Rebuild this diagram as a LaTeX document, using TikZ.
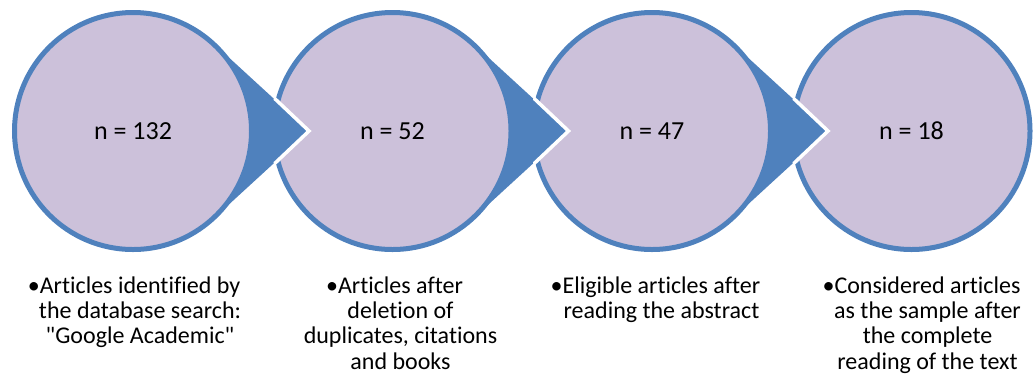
\documentclass[tikz,border=0pt]{standalone}
\usepackage{fontspec}
\setmainfont{Carlito}[Ligatures={TeXOff,CommonOff}]
\usetikzlibrary{calc}
\definecolor{lav}{HTML}{CCC1DA}
\definecolor{ablue}{HTML}{4F81BD}
\begin{document}
\begin{tikzpicture}[x=1pt,y=-1pt,
  circ/.style={circle,draw=ablue,fill=lav,line width=5pt,minimum size=237pt,inner sep=0pt,font=\fontsize{26}{30}\selectfont},
  lbl/.style={anchor=north,align=center,inner sep=0pt,font=\fontsize{24}{25.3}\selectfont},
  gap/.style={draw=white,line width=3.5pt,line join=miter}]
\useasboundingbox (0,0) rectangle (1033,376);
\node[circ] (c1) at (133,131) {n = 132};
\node[circ] (c2) at (392.5,131) {n = 52};
\node[circ] (c3) at (652,131) {n = 47};
\node[circ] (c4) at (911.5,131) {n = 18};
\foreach \a/\b in {c1/c2,c2/c3,c3/c4}{
  \coordinate (t\a) at ($(\a.center)+(176,0)$);
  \fill[ablue] ($(\a.center)+(-46.5:119)$) -- (t\a) -- ($(\a.center)+(46.5:119)$)
     arc[start angle=46.5,end angle=-46.5,radius=119] -- cycle;
  \begin{scope}
    \clip (\b.center) circle[radius=123];
    \draw[gap] ($(\a.center)+(-46.5:121)$) -- (t\a) -- ($(\a.center)+(46.5:121)$);
  \end{scope}
}
\node[lbl] (l1) at (140,276.5) {\llap{•}Articles identified by\\the database search:\\"Google Academic"};
\node[lbl] (l2) at (400.5,276.5) {\llap{•}Articles after\\deletion of\\duplicates, citations\\and books};
\node[lbl] (l3) at (661.5,276.5) {\llap{•}Eligible articles after\\reading the abstract};
\node[lbl] (l4) at (927.5,276.5) {\llap{•}Considered articles\\as the sample after\\the complete\\reading of the text};
\end{tikzpicture}
\end{document}
